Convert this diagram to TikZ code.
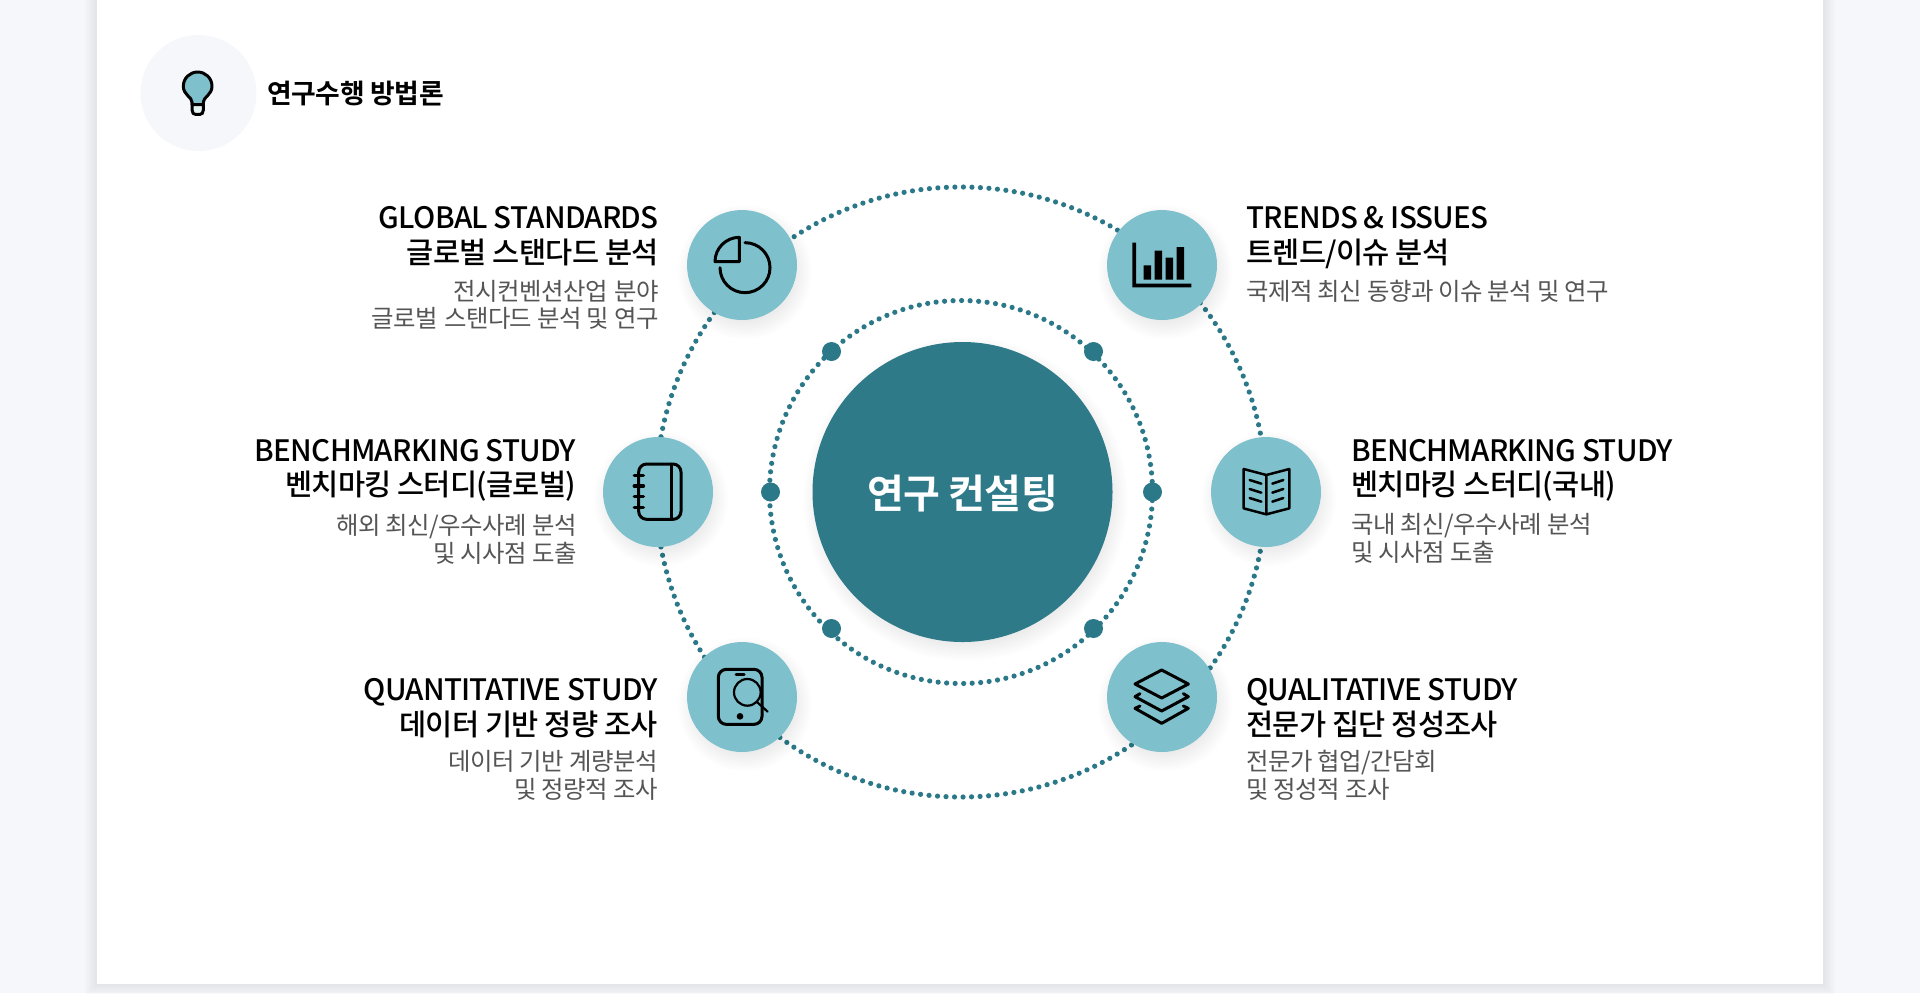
\documentclass[tikz,border=0pt]{standalone}
\usepackage{fontspec}
\setmainfont{Noto Sans CJK KR}
\newfontfamily\headfont[LetterSpace=-2.5]{Noto Sans CJK KR Medium}
\newfontfamily\bodyfont[LetterSpace=-2]{Noto Sans CJK KR}
\newfontfamily\boldfont[LetterSpace=-1.5,BoldFont=*]{Noto Sans CJK KR Bold}
\definecolor{bgc}{HTML}{F5F7FB}
\definecolor{teal1}{HTML}{2E7A89}
\definecolor{teal2}{HTML}{7EC1CD}
\definecolor{dotc}{HTML}{2A7888}
\definecolor{bodyc}{HTML}{555555}
\tikzset{
  iconbg/.style={circle,fill=teal2,inner sep=0pt,minimum size=55pt},
  bigdot/.style={circle,fill=dotc,inner sep=0pt,minimum size=9.5pt},
  dotring/.style={draw=dotc,line width=2.6pt,line cap=round,dash pattern=on 0pt off 4.26pt},
  hl/.style={font=\headfont\fontsize{14.75}{14.75}\selectfont,text=black,inner sep=0pt,yshift=-2.25pt},
  bl/.style={font=\bodyfont\fontsize{12.2}{12.2}\selectfont,text=bodyc,inner sep=0pt,yshift=-2.5pt},
  ic/.style={draw=black,line width=1.5pt,line join=round,line cap=round}
}
\newcommand{\softshadow}[3]{\foreach \k in {0,2,...,20}{\fill[black,opacity=.006] (#1+3,#2+7) circle[radius=#3+12-\k];}}
\begin{document}
\begin{tikzpicture}[x=.5pt,y=-.5pt]
\useasboundingbox (0,0) rectangle (1920,993);
\fill[bgc] (0,0) rectangle (1920,993);
\foreach \k in {0,2,...,12}{\fill[black,opacity=.012] (97-\k,-20) rectangle (1823+\k,984+\k);}
\fill[white] (97,-5) rectangle (1823,984);
% header
\node[circle,fill=bgc,inner sep=0pt,minimum size=58pt] (hd) at (198.5,93) {};
\begin{scope}[shift={(120,20)},scale=1/3]
\fill[white!80!teal2,draw=black,line width=1.5pt] (216,250) -- (216,270) .. controls (216,279) and (222,283) .. (226,283) -- (240,283) .. controls (245,283) and (250,279) .. (250,270) -- (250,250) -- cycle;
\filldraw[fill=teal2,draw=black,line width=1.5pt,line join=round] (216,254) -- (216,246) .. controls (216,232) and (190,224) .. (190,199) .. controls (190,174) and (210,156) .. (233,156) .. controls (256,156) and (276,174) .. (276,199) .. controls (276,224) and (250,232) .. (250,246) -- (250,254) -- cycle;
\end{scope}
\node[font=\boldfont\fontsize{13.4}{13.4}\selectfont,anchor=mid west,inner sep=0pt,yshift=-2.75pt] (title) at (267,93) {연구수행 방법론};
% rings
\coordinate (c) at (961,492);
\draw[dotring] (c) circle[radius=305];
\draw[dotring] (c) circle[radius=191.5];
\node[bigdot] (d1) at (831.5,351.5) {};
\node[bigdot] (d2) at (1093.5,351.5) {};
\node[bigdot] (d3) at (770.5,492) {};
\node[bigdot] (d4) at (1152.5,492) {};
\node[bigdot] (d5) at (831.5,628.5) {};
\node[bigdot] (d6) at (1093.5,628.5) {};
% centre
\softshadow{962.5}{492}{150}
\node[circle,fill=teal1,inner sep=0pt,minimum size=150pt,text=white,font=\boldfont\fontsize{20}{20}\selectfont,text depth=0pt] (main) at (962.5,492) {연구 컨설팅};
% icon circles
\softshadow{742}{265}{55}\softshadow{1162}{265}{55}\softshadow{658}{492}{55}\softshadow{1266}{492}{55}\softshadow{742}{697}{55}\softshadow{1162}{697}{55}
\node[iconbg] (tl) at (742,265) {};
\node[iconbg] (tr) at (1162,265) {};
\node[iconbg] (ml) at (658,492) {};
\node[iconbg] (mr) at (1266,492) {};
\node[iconbg] (bl) at (742,697) {};
\node[iconbg] (br) at (1162,697) {};
% pie
\begin{scope}[shift={(660,190)},scale=1/3]
\draw[ic] (165,215) arc[start angle=180,end angle=270,radius=73] -- (238,215) -- cycle;
\draw[ic] (255,158) arc[start angle=-90,end angle=180,radius=75];
\end{scope}
% bars
\begin{scope}[shift={(1090,190)},scale=1/3]
\fill[black] (127,158) rectangle (138,292) (127,281) rectangle (304,292);
\fill[black] (161,226) rectangle (183,269) (194,182) rectangle (216,269) (227,203) rectangle (249,269) (260,171) rectangle (282,269);
\end{scope}
% notebook
\begin{scope}[shift={(590,420)},scale=1/3]
\draw[ic,rounded corners=4pt] (146,132) rectangle (273,298);
\draw[ic] (244,132) -- (244,298);
\foreach \y in {166,198,230,262}{\draw[ic,line width=1.8pt] (133,\y) -- (160,\y);}
\end{scope}
% book
\begin{scope}[shift={(1200,420)},scale=1/3]
\draw[ic,line width=1.25pt] (131,147) -- (199,165) -- (268,147) -- (268,265) -- (199,283) -- (131,265) -- cycle (199,165) -- (199,283);
\foreach \y in {0,27,54}{\draw[ic,line width=1.25pt] (149,180+\y) -- (184,191+\y) (217,191+\y) -- (250,180+\y);}
\end{scope}
% tablet
\begin{scope}[shift={(670,625)},scale=1/3]
\draw[ic,rounded corners=4pt] (145,133) rectangle (276,298);
\draw[ic,line width=1.5pt] (198,149) -- (222,149);
\fill[black] (210,274) circle[radius=10];
\draw[ic,line width=1.1pt,fill=teal2] (232,202) circle[radius=40];
\draw[ic,line width=1.1pt] (262,232) -- (293,260);
\end{scope}
% layers
\begin{scope}[shift={(1090,625)},scale=1/3]
\draw[ic,line width=1.5pt] (215,135) -- (295,177) -- (215,219) -- (135,177) -- cycle;
\draw[ic,line width=1.5pt] (150,206) -- (135,215) -- (215,258) -- (295,215) -- (280,206);
\draw[ic,line width=1.5pt] (150,243) -- (135,250) -- (215,295) -- (295,250) -- (280,243);
\end{scope}
% text top-left
\node[hl,anchor=mid east] (t1a) at (659,218.5) {GLOBAL STANDARDS};
\node[hl,anchor=mid east] (t1b) at (659,253.5) {글로벌 스탠다드 분석};
\node[bl,anchor=mid east] (t1c) at (659,290) {전시컨벤션산업\hspace{.06em} 분야};
\node[bl,anchor=mid east] (t1d) at (659,317) {글로벌\hspace{.06em} 스탠다드 분석 및 연구};
% top-right
\node[hl,anchor=mid west] (t2a) at (1246,218.5) {TRENDS \& ISSUES};
\node[hl,anchor=mid west] (t2b) at (1246,253.5) {트렌드/이슈 분석};
\node[bl,anchor=mid west] (t2c) at (1246,290) {국제적 최신 동향과 이슈 분석 및 연구};
% mid-left
\node[hl,anchor=mid east] (t3a) at (576.5,451.5) {BENCHMARKING STUDY};
\node[hl,anchor=mid east] (t3b) at (576.5,485.5) {벤치마킹 스터디(글로벌)};
\node[bl,anchor=mid east] (t3c) at (577,524) {해외 최신/우수사례 분석};
\node[bl,anchor=mid east] (t3d) at (577,552) {및 시사점 도출};
% mid-right
\node[hl,anchor=mid west] (t4a) at (1351,451.5) {BENCHMARKING STUDY};
\node[hl,anchor=mid west] (t4b) at (1351,485.5) {벤치마킹 스터디(국내)};
\node[bl,anchor=mid west] (t4c) at (1351,523) {국내 최신/우수사례 분석};
\node[bl,anchor=mid west] (t4d) at (1351,551) {및 시사점 도출};
% bottom-left
\node[hl,anchor=mid east] (t5a) at (658,690.5) {QUANTITATIVE STUDY};
\node[hl,anchor=mid east] (t5b) at (658,725.5) {데이터 기반 정량 조사};
\node[bl,anchor=mid east] (t5c) at (658,760) {데이터 기반 계량분석};
\node[bl,anchor=mid east] (t5d) at (658,788) {및 정량적 조사};
% bottom-right
\node[hl,anchor=mid west] (t6a) at (1246,690.5) {QUALITATIVE STUDY};
\node[hl,anchor=mid west] (t6b) at (1246,725.5) {전문가 집단 정성조사};
\node[bl,anchor=mid west] (t6c) at (1246,760) {전문가 협업/간담회};
\node[bl,anchor=mid west] (t6d) at (1246,788) {및 정성적 조사};
\end{tikzpicture}
\end{document}
